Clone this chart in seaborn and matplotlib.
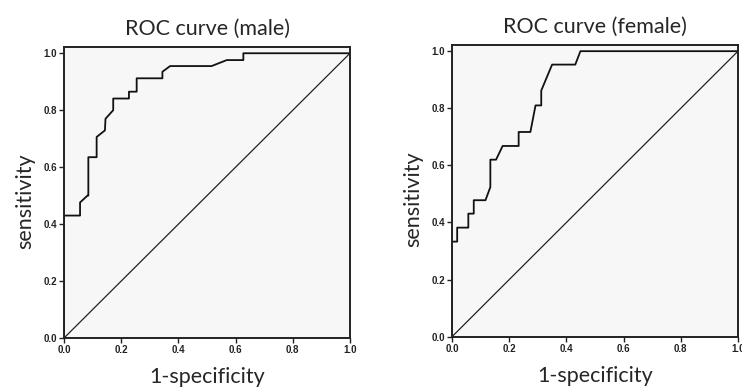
import matplotlib
matplotlib.use("Agg")
import matplotlib.pyplot as plt
import seaborn as sns
import pandas as pd

# ROC curve points (1-specificity, sensitivity)
male_fpr = [0.0, 0.0, 0.056, 0.056, 0.082, 0.085, 0.085, 0.114, 0.114, 0.143, 0.145,
            0.172, 0.172, 0.227, 0.227, 0.254, 0.254, 0.344, 0.344, 0.371,
            0.516, 0.569, 0.627, 0.627, 1.0]
male_tpr = [0.0, 0.43, 0.43, 0.476, 0.5, 0.5, 0.635, 0.635, 0.706, 0.729, 0.77,
            0.8, 0.841, 0.841, 0.865, 0.865, 0.912, 0.912, 0.935, 0.955,
            0.955, 0.976, 0.976, 1.0, 1.0]

female_fpr = [0.0, 0.0, 0.018, 0.018, 0.057, 0.057, 0.076, 0.076, 0.117, 0.134, 0.134,
              0.154, 0.177, 0.233, 0.233, 0.274, 0.292, 0.312, 0.312, 0.35,
              0.431, 0.449, 1.0]
female_tpr = [0.0, 0.333, 0.333, 0.382, 0.382, 0.431, 0.431, 0.478, 0.478, 0.524, 0.62,
              0.62, 0.668, 0.668, 0.717, 0.717, 0.81, 0.81, 0.862, 0.953,
              0.953, 1.0, 1.0]

ref_line = [0.0, 1.0]
ticks = [0.0, 0.2, 0.4, 0.6, 0.8, 1.0]
tick_labels = ["0.0", "0.2", "0.4", "0.6", "0.8", "1.0"]
titles = ["ROC curve (male)", "ROC curve (female)"]

sns.set_style("ticks")
plt.rcParams["font.family"] = ["Lato", "DejaVu Sans"]

fig = plt.figure(figsize=(7.42, 3.87), dpi=100)
ax1 = fig.add_axes([0.0863, 0.1266, 0.3854, 0.752])
ax2 = fig.add_axes([0.6092, 0.130, 0.3854, 0.754])

panels = [(ax1, male_fpr, male_tpr), (ax2, female_fpr, female_tpr)]
for i, (ax, fpr, tpr) in enumerate(panels):
    ax.set_facecolor("#f7f7f7")
    df = pd.DataFrame({"fpr": fpr, "tpr": tpr})
    sns.lineplot(data=df, x="fpr", y="tpr", sort=False, estimator=None,
                 color="#111111", linewidth=1.3, ax=ax)
    sns.lineplot(x=ref_line, y=ref_line, color="#222222", linewidth=0.9, ax=ax)
    ax.set_xlim(0, 1.0)
    ax.set_ylim(0, 1.022)
    ax.set_xticks(ticks)
    ax.set_xticklabels(tick_labels, family="Liberation Sans", fontweight="bold")
    ax.set_yticks(ticks)
    ax.set_yticklabels(tick_labels, family="Liberation Sans", fontweight="bold")
    ax.tick_params(labelsize=7, length=3.5, width=1, pad=1.5, colors="#222222")
    for s in ax.spines.values():
        s.set_linewidth(1.4)
        s.set_color("#222222")
    ax.set_title(titles[i], fontsize=15.5, pad=9)
    ax.set_xlabel("1-specificity", fontsize=15.5, labelpad=9)
    ax.set_ylabel("sensitivity", fontsize=15.5, labelpad=6)
    ax.yaxis.label.set_y(0.47)

fig.savefig("out.png", dpi=100)
